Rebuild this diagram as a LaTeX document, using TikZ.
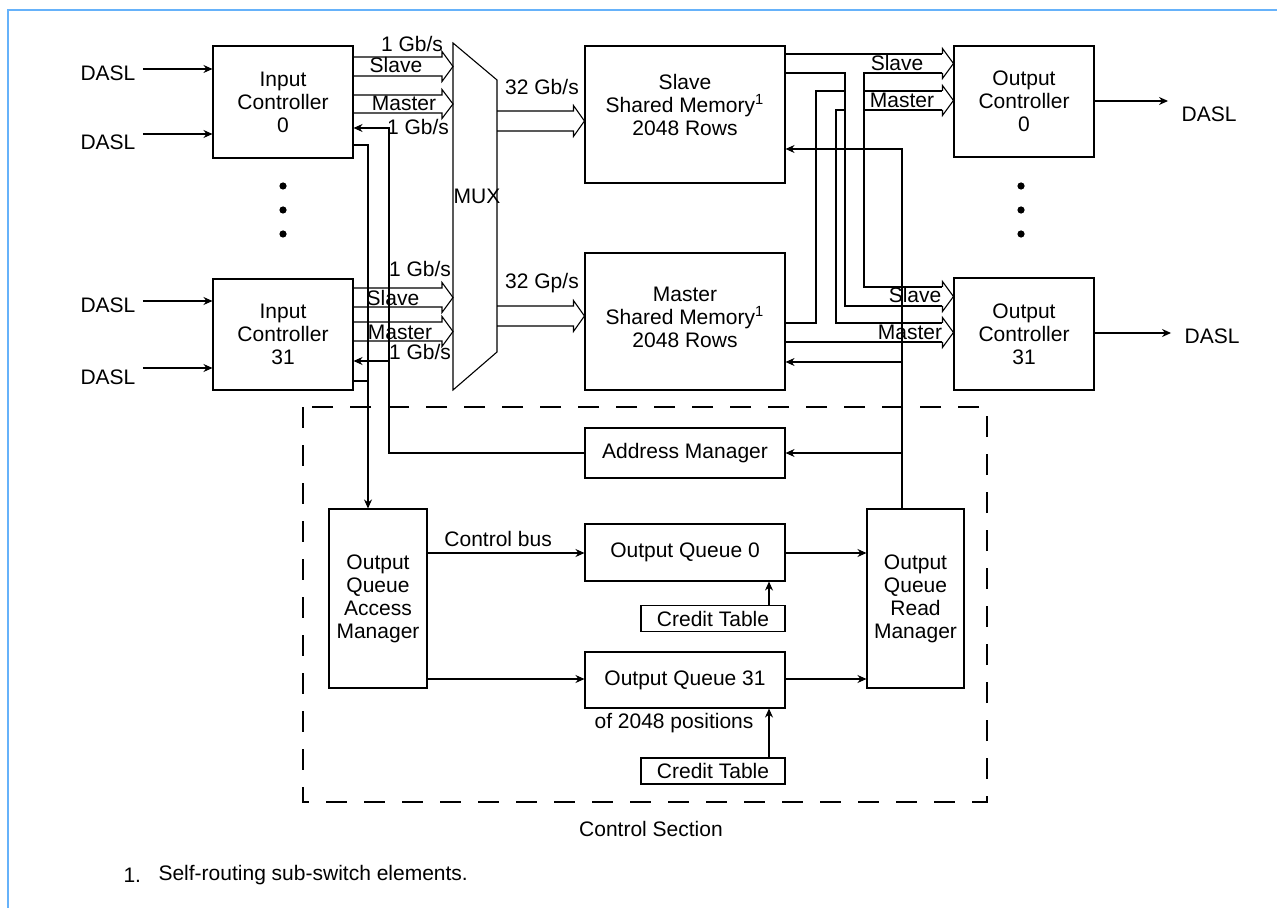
\documentclass[tikz,border=0pt]{standalone}
\usepackage{fontspec}
\setmainfont{Liberation Sans}
\usetikzlibrary{arrows.meta, calc}

\definecolor{frameblue}{RGB}{102,178,250}

% wide bus arrow: from #1 to #2, upper line y=#3, lower line y=#4
\newcommand\bus[4]{%
  \draw let \p1=(#1 |- 0,#3), \p2=(#2 |- 0,#4) in
    (\x1,\y1) -- (\x2-5.5pt,\y1) -- (\x2-5.5pt,\y1+2.75pt) -- (\x2,{(\y1+\y2)/2})
    -- (\x2-5.5pt,\y2-2.75pt) -- (\x2-5.5pt,\y2) -- (\x1,\y2);}
% head of a wide bus arrow only
\newcommand\bushead[3]{%
  \draw let \p1=(#1 |- 0,#2), \p2=(#1 |- 0,#3) in
    (\x1-5.5pt,\y1) -- (\x1-5.5pt,\y1+2.75pt) -- (\x1,{(\y1+\y2)/2})
    -- (\x1-5.5pt,\y2-2.75pt) -- (\x1-5.5pt,\y2);}

\begin{document}
\begin{tikzpicture}[x=0.5pt, y=-0.5pt, line width=0.55pt,
    font=\fontsize{10.5}{11.5}\selectfont,
    box/.style 2 args={draw, minimum width=#1, minimum height=#2, align=center, inner sep=0pt},
    lbl/.style={inner sep=0pt},
    dasl/.style={inner xsep=3.5pt, inner ysep=0pt},
    arr/.style={-{Stealth[length=4.5pt, width=4pt]}},
    ctrl/.style={draw, dash pattern=on 10.5pt off 8.5pt}
  ]
  \useasboundingbox (0,0) rectangle (1277,908);
  \draw[frameblue, line width=1pt] (8,908) -- (8,10) -- (1277,10);

  % input controllers
  \node[box={70pt}{56pt}]   (ic0)  at (283,102)   {Input\\Controller\\0};
  \node[box={70pt}{55.5pt}] (ic31) at (283,334.5) {Input\\Controller\\31};
  \node[dasl] (din0a)  at (108,73)  {DASL};
  \node[dasl] (din0b)  at (108,142) {DASL};
  \node[dasl] (din31a) at (108,305) {DASL};
  \node[dasl] (din31b) at (108,377) {DASL};
  \draw[arr] (din0a.east |- 0,69)   -- (ic0.west |- 0,69);
  \draw[arr] (din0b.east |- 0,134)  -- (ic0.west |- 0,134);
  \draw[arr] (din31a.east |- 0,301) -- (ic31.west |- 0,301);
  \draw[arr] (din31b.east |- 0,368) -- (ic31.west |- 0,368);
  \foreach \y in {186,210,234} {
    \fill (283,\y) circle[radius=1.8pt];
    \fill (1021,\y) circle[radius=1.8pt];
  }

  % mux
  \coordinate (muxnw) at (453,43);
  \coordinate (muxne) at (497,80);
  \coordinate (muxse) at (497,352);
  \coordinate (muxsw) at (453,390);
  \draw (muxnw) -- (muxne) -- (muxse) -- (muxsw) -- cycle;
  \node[lbl] (mux) at (477,196) {MUX};

  \bus{ic0.east}{muxnw}{57}{76}
  \bus{ic0.east}{muxnw}{95}{113}
  \bus{ic31.east}{muxnw}{288}{307}
  \bus{ic31.east}{muxnw}{322}{341}
  \node[lbl] (rate0a)  at (412,44)  {1 Gb/s};
  \node[lbl] (slv0)    at (396,65)  {Slave};
  \node[lbl] (mst0)    at (404,103) {Master};
  \node[lbl] (rate0b)  at (418,127) {1 Gb/s};
  \node[lbl] (rate31a) at (420,269) {1 Gb/s};
  \node[lbl] (slv31)   at (393,298) {Slave};
  \node[lbl] (mst31)   at (400,332) {Master};
  \node[lbl] (rate31b) at (420,352) {1 Gb/s};

  % shared memories
  \node[box={100pt}{68.5pt}] (sm) at (685,114.5) {};
  \node[lbl, align=center] (smtxt) at (685,105) {Slave\\Shared Memory\textsuperscript{1}\\2048 Rows};
  \node[box={100pt}{68.5pt}] (mm) at (685,321.5) {};
  \node[lbl, align=center] (mmtxt) at (685,317) {Master\\Shared Memory\textsuperscript{1}\\2048 Rows};
  \bus{muxne}{sm.west}{111}{131}
  \bus{muxse}{mm.west}{306}{326}
  \node[lbl] (wide0)  at (542,87)  {32 Gb/s};
  \node[lbl] (wide31) at (542,283) {32 Gp/s};

  % output controllers
  \node[box={70pt}{55.5pt}] (oc0)  at (1024,101.5) {Output\\Controller\\0};
  \node[box={70pt}{56pt}]   (oc31) at (1024,334)   {Output\\Controller\\31};
  \node[dasl, inner xsep=6.5pt] (dout0)  at (1209,114) {DASL};
  \node[dasl, inner xsep=6.5pt] (dout31) at (1212,336) {DASL};
  \draw[arr] (oc0.east |- 0,101)  -- (dout0.west |- 0,101);
  \draw[arr] (oc31.east |- 0,333) -- (dout31.west |- 0,333);

  \coordinate (hb0)  at ([xshift=-5.5pt]oc0.west);
  \coordinate (hb31) at ([xshift=-5.5pt]oc31.west);
  \coordinate (mv1) at (816,0);
  \coordinate (mv2) at (836,0);
  \coordinate (sv1) at (845,0);
  \coordinate (sv2) at (864,0);
  \coordinate (vrd) at (902,0);

  \draw (mm.east |- 0,323) -| (mv1 |- 0,91) -- (hb0 |- 0,91);
  \draw (hb0 |- 0,110) -| (mv2 |- 0,323) -- (hb31 |- 0,323);
  \draw (mm.east |- 0,342) -- (hb31 |- 0,342);
  \bushead{oc0.west}{91}{110}
  \bushead{oc31.west}{323}{342}
  \fill[white] (846,74) rectangle (863,286);
  \draw (sm.east |- 0,54) -- (hb0 |- 0,54);
  \draw (sm.east |- 0,73) -| (sv1 |- 0,306) -- (hb31 |- 0,306);
  \draw (hb0 |- 0,73) -| (sv2 |- 0,287) -- (hb31 |- 0,287);
  \bushead{oc0.west}{54}{73}
  \bushead{oc31.west}{287}{306}
  \node[lbl] (oslv0)  at (897,63)  {Slave};
  \node[lbl] (omst0)  at (902,100) {Master};
  \node[lbl] (oslv31) at (915,295) {Slave};
  \node[lbl] (omst31) at (910,332) {Master};

  % control section
  \draw[ctrl] (303,407) rectangle (987,802);
  \node[lbl] (ctrlname) at (651,829) {Control Section};
  \node[box={100pt}{25pt}]     (am)   at (685,453)     {Address Manager};
  \node[box={49pt}{89.5pt}]    (oqam) at (378,598.5)   {Output\\Queue\\Access\\Manager};
  \node[box={48.5pt}{89.5pt}]  (oqrm) at (915.5,598.5) {Output\\Queue\\Read\\Manager};
  \node[box={100pt}{28.5pt}]   (oq0)  at (685,552.5)   {Output Queue 0};
  \node[box={100pt}{28pt}]     (oq31) at (685,680)     {Output Queue 31};
  \node[box={72pt}{12.75pt}]   (ct0)  at (713,618.5)   {Credit Table};
  \node[box={72pt}{13pt}]      (ct31) at (713,771)     {Credit Table};
  \node[lbl] (npos) at (674,723) {of 2048 positions};

  \coordinate (vin) at (368,0);
  \coordinate (vam) at (389,0);
  \coordinate (vct) at (769,0);
  \draw[arr] (ic0.east |- 0,145) -| (vin |- oqam.north);
  \draw (ic31.east |- 0,381) -- (vin |- 0,381);
  \draw[arr] (am.west) -| (vam |- 0,128) -- (ic0.east |- 0,128);
  \draw[arr] (vam |- 0,361) -- (ic31.east |- 0,361);

  \draw[arr] (vrd |- oqrm.north) |- (sm.east |- 0,149);
  \draw[arr] (vrd |- 0,362) -- (mm.east |- 0,362);
  \draw[arr] (vrd |- am.east) -- (am.east);

  \draw[arr] (oqam.east |- 0,553) -- node[lbl, above=3pt, pos=0.45] (cbus) {Control bus} (oq0.west |- 0,553);
  \draw[arr] (oq0.east |- 0,553) -- (oqrm.west |- 0,553);
  \draw[arr] (oqam.east |- 0,679) -- (oq31.west |- 0,679);
  \draw[arr] (oq31.east |- 0,679) -- (oqrm.west |- 0,679);
  \draw[arr] (vct |- ct0.north) -- (vct |- oq0.south);
  \draw[arr] (vct |- ct31.north) -- (vct |- oq31.south);

  % footnote
  \node[lbl, anchor=west] (fnnum)  at (123,875) {1.};
  \node[lbl, anchor=west] (fntext) at (158,875) {Self-routing sub-switch elements.};
\end{tikzpicture}
\end{document}
